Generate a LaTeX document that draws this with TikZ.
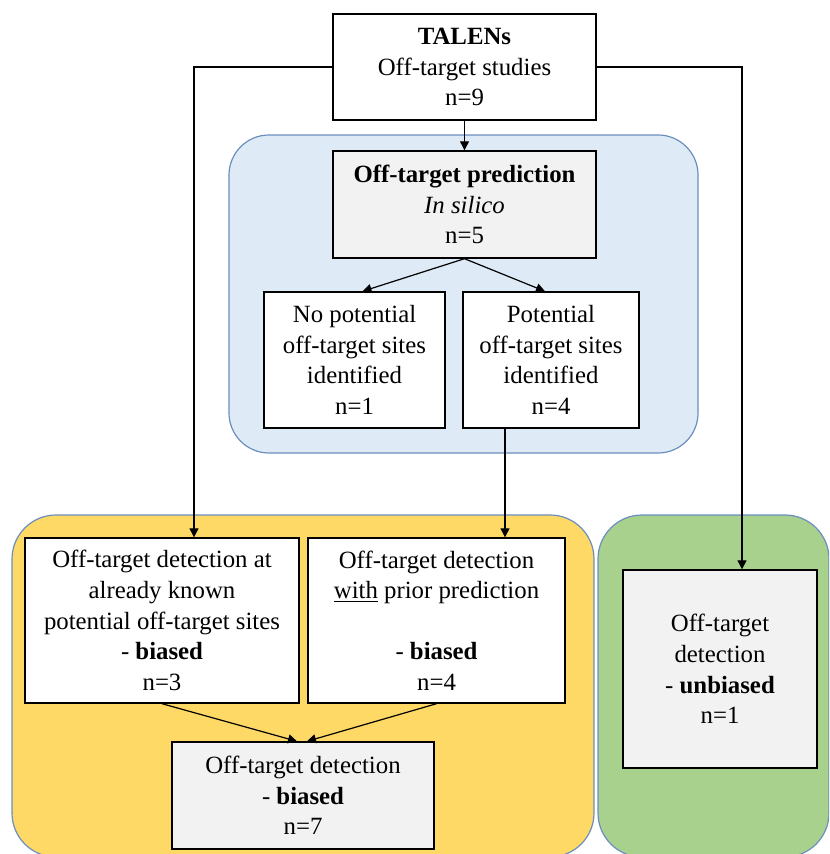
\documentclass[tikz,border=0pt]{standalone}
\usepackage{fontspec}
\setmainfont{Liberation Serif}
\usetikzlibrary{arrows.meta,positioning}

\definecolor{insilico}{HTML}{DEEBF7}
\definecolor{biasedbg}{HTML}{FFD966}
\definecolor{unbiasedbg}{HTML}{A9D18E}
\definecolor{groupline}{HTML}{6C8EBF}
\definecolor{boxgrey}{HTML}{F2F2F2}

\begin{document}
\begin{tikzpicture}[
  x=0.5pt, y=-0.5pt,
  box/.style={
    draw,
    line width=0.7pt,
    fill=white,
    align=center,
    inner sep=0pt,
    font=\fontsize{12.4}{15.3}\selectfont
  },
  greybox/.style={box, fill=boxgrey},
  group/.style={draw=groupline, line width=0.6pt, rounded corners=22pt},
  arrow/.style={-{Triangle[length=4.5pt,width=4.5pt]}, line width=0.6pt}
]
\clip (0,0) rectangle (829,854);
\fill[white] (0,0) rectangle (829,854);

% grouping areas
\filldraw[group, fill=insilico, rounded corners=20pt] (229,135) rectangle (698,453);
\filldraw[group, fill=biasedbg] (12,515) rectangle (594,857);
\filldraw[group, fill=unbiasedbg] (598,515) rectangle (829,857);

% boxes
\node[box, minimum width=131.5pt, minimum height=53pt] (talens) at (464.5,67)
  {\textbf{TALENs}\\Off-target studies\\n=9};
\node[greybox, minimum width=131.5pt, minimum height=53.5pt] (pred) at (464.5,204.5)
  {\textbf{Off-target prediction}\\\textit{In silico}\\n=5};
\node[box, minimum width=90.5pt, minimum height=68pt] (nosites) at (354.5,360)
  {No potential\\off-target sites\\identified\\n=1};
\node[box, minimum width=88pt, minimum height=68pt] (sites) at (551,360)
  {Potential\\off-target sites\\identified\\n=4};
\node[box, minimum width=137pt, minimum height=82.5pt] (known) at (162,620.5)
  {Off-target detection at\\already known\\potential off-target sites\\- \textbf{biased}\\n=3};
\node[box, minimum width=128.5pt, minimum height=82.5pt] (prior) at (436.5,620.5)
  {Off-target detection\\\underline{with} prior prediction\\[15.3pt]- \textbf{biased}\\n=4};
\node[greybox, minimum width=131pt, minimum height=53.5pt] (biased) at (303,795.5)
  {Off-target detection\\- \textbf{biased}\\n=7};
\node[greybox, minimum width=97pt, minimum height=99pt] (unbiased) at (720,669)
  {Off-target\\detection\\- \textbf{unbiased}\\n=1};

% connectors
\draw[arrow] (talens) -- (pred);
\draw[arrow] (pred.south) -- ([xshift=4pt]nosites.north);
\draw[arrow] (pred.south) -- ([xshift=-3pt]sites.north);
\draw[arrow] (talens.west) -| ([xshift=16pt]known.north);
\draw[arrow] (talens.east) -| ([xshift=11pt]unbiased.north);
\draw[arrow] ([xshift=-23pt]sites.south) -- ([xshift=-23pt]sites.south |- prior.north);
\draw[arrow] (known.south) -- ([xshift=-3pt]biased.north);
\draw[arrow] (prior.south) -- ([xshift=2pt]biased.north);
\end{tikzpicture}
\end{document}
